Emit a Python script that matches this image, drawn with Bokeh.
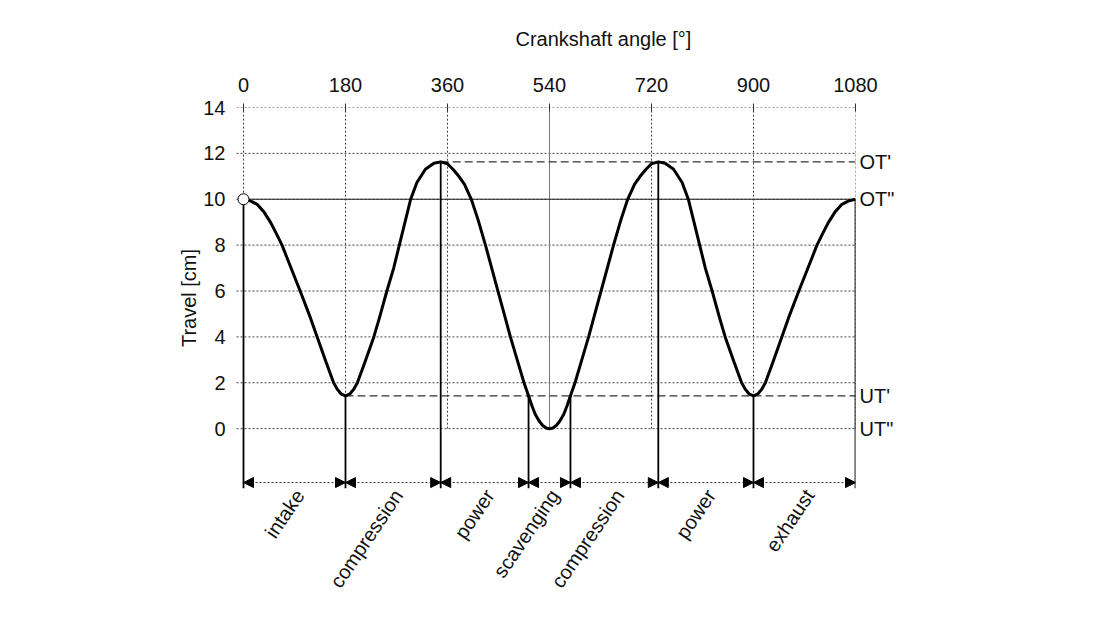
import math
from bokeh.plotting import figure
from bokeh.models import (FixedTicker, Range1d, ColumnDataSource, Arrow, NormalHead,
                          LinearAxis, Title)
from bokeh.embed import file_html
from bokeh.resources import INLINE

# ---------------- data ----------------
x_ticks = [0, 180, 360, 540, 720, 900, 1080]
y_ticks = [0, 2, 4, 6, 8, 10, 12, 14]

angle = [0, 12, 24, 36, 48, 58, 68, 86, 100, 118, 130, 145, 159, 166, 172, 180,
         188, 194, 201, 215, 230, 240, 253, 265, 275, 285, 295, 306, 321, 336, 348,
         360, 370, 380, 390, 402, 414, 427, 438, 449, 460, 471, 483, 495, 503, 509,
         515, 522, 528, 534, 540,
         546, 552, 558, 565, 571, 577, 585, 597, 609, 620, 631, 642, 653, 666, 678,
         690, 700, 710, 720, 732, 744, 759, 774, 785, 795, 805, 815, 827, 840, 850,
         865, 879, 886, 892, 900, 908, 914, 921, 935, 950, 962, 980, 994, 1012, 1022,
         1032, 1044, 1056, 1068, 1080]
travel = [10.0, 9.93, 9.78, 9.45, 8.98, 8.5, 8.0, 6.87, 6.0, 4.84, 4.0, 2.95, 2.0, 1.7, 1.52, 1.43,
          1.52, 1.7, 2.0, 2.95, 4.0, 4.84, 6.0, 7.0, 8.0, 9.0, 10.0, 10.73, 11.31, 11.57, 11.63,
          11.55, 11.3, 11.0, 10.65, 10.0, 9.1, 8.0, 7.0, 6.0, 5.0, 4.0, 3.0, 2.0, 1.43, 1.0,
          0.62, 0.32, 0.14, 0.03, 0.0,
          0.03, 0.14, 0.32, 0.62, 1.0, 1.43, 2.0, 3.0, 4.0, 5.0, 6.0, 7.0, 8.0, 9.1, 10.0,
          10.65, 11.0, 11.3, 11.55, 11.63, 11.57, 11.31, 10.73, 10.0, 9.0, 8.0, 7.0, 6.0, 4.84, 4.0,
          2.95, 2.0, 1.7, 1.52, 1.43, 1.52, 1.7, 2.0, 2.95, 4.0, 4.84, 6.0, 6.87, 8.0, 8.5,
          8.98, 9.45, 9.78, 9.93, 10.0]

bounds = [0, 180, 348, 503, 577, 732, 900, 1080]
bound_top = [10.0, 1.43, 11.63, 1.43, 1.43, 11.63, 1.43, 10.0]
phases = ["intake", "compression", "power", "scavenging", "compression", "power", "exhaust"]

level_names = ["OT'", 'OT"', "UT'", 'UT"']
level_vals = [11.63, 10.0, 1.43, 0.0]
ot1_start = 348
ut1_start = 180
center_angle = 540
start_point = (0, 10.0)

x_title = "Crankshaft angle [°]"
y_title = "Travel [cm]"

# ---------------- layout / styling ----------------
FONT = "Liberation Sans"
FS = "20px"
TXT = "#111111"
PX_PER_DEG = 612 / 1080
PX_PER_CM = 23.0
frame_top, frame_left, frame_h, frame_w = 106, 235, 382, 620
W, H = 1084, 610
x0 = -(243 - frame_left) / PX_PER_DEG
x1 = x0 + frame_w / PX_PER_DEG
xmax = x_ticks[-1]
ymax = y_ticks[-1]
ymin = ymax - frame_h / PX_PER_CM
arrow_y = -2.35
tick_len = 7 / PX_PER_DEG

p = figure(width=W, height=H, x_range=Range1d(x0, x1), y_range=Range1d(ymin, ymax),
           x_axis_location="above", output_backend="svg", toolbar_location=None,
           min_border_left=frame_left, min_border_right=W - frame_left - frame_w,
           min_border_top=frame_top, min_border_bottom=H - frame_top - frame_h)
p.outline_line_color = None
p.xgrid.visible = False
p.ygrid.visible = False


def style_axis(ax, standoff, tin=0, tout=0):
    ax.axis_line_color = None
    ax.major_tick_in = tin
    ax.major_tick_out = tout
    ax.major_tick_line_color = "#333" if (tin or tout) else None
    ax.minor_tick_line_color = None
    ax.major_label_text_font = FONT
    ax.major_label_text_font_size = FS
    ax.major_label_text_color = TXT
    ax.major_label_standoff = standoff


xa = p.xaxis[0]
xa.ticker = FixedTicker(ticks=x_ticks)
style_axis(xa, 12, 4, 4)

ya = p.yaxis[0]
ya.ticker = FixedTicker(ticks=y_ticks)
style_axis(ya, 10)
ya.axis_label = y_title
ya.axis_label_text_font = FONT
ya.axis_label_text_font_size = FS
ya.axis_label_text_font_style = "normal"
ya.axis_label_text_color = TXT
ya.axis_label_standoff = 0

# right axis: reference levels
ra = LinearAxis(ticker=FixedTicker(ticks=level_vals),
                major_label_overrides={float(v): t for v, t in zip(level_vals, level_names)})
style_axis(ra, 4)
p.add_layout(ra, "right")

# bottom axis: phase names
mids = [(a + b) / 2 + 9 for a, b in zip(bounds[:-1], bounds[1:])]
ba = LinearAxis(ticker=FixedTicker(ticks=mids),
                major_label_overrides={float(m): t for m, t in zip(mids, phases)},
                major_label_orientation=math.radians(56))
style_axis(ba, 3)
p.add_layout(ba, "below")

# top title
p.add_layout(Title(text=x_title, align="left", offset=280, standoff=50,
                   text_font=FONT, text_font_size=FS, text_font_style="normal",
                   text_color=TXT), "above")

# dotted grid (only over the 0..14 / 0..1080 area)
vx = [t for t in x_ticks if t != center_angle]
p.segment(x0=vx, y0=[0] * len(vx), x1=vx, y1=[ymax] * len(vx),
          line_color="#444", line_width=1, line_dash="2 2")
p.segment(x0=[-tick_len] * len(y_ticks), y0=y_ticks, x1=[xmax] * len(y_ticks), y1=y_ticks,
          line_color="#444", line_width=1, line_dash="2 2")
p.segment(x0=[center_angle], y0=[0], x1=[center_angle], y1=[ymax],
          line_color="#777", line_width=1)

# reference levels
p.segment(x0=[0], y0=[level_vals[1]], x1=[xmax], y1=[level_vals[1]],
          line_color="#222", line_width=1.2)
p.segment(x0=[ot1_start, ut1_start], y0=[level_vals[0], level_vals[2]],
          x1=[xmax, xmax], y1=[level_vals[0], level_vals[2]],
          line_color="#333", line_width=1.2, line_dash="8 4")

# phase boundary lines
p.segment(x0=bounds, y0=bound_top, x1=bounds, y1=[ymin] * len(bounds),
          line_color="black", line_width=1.8)

# curve
p.line(angle, travel, line_color="black", line_width=3, line_join="round")
p.scatter([start_point[0]], [start_point[1]], size=11, fill_color="white",
          line_color="black", line_width=1)

# dimension arrows
asrc = ColumnDataSource(dict(x0=bounds[:-1], x1=bounds[1:], y=[arrow_y] * len(phases)))
head = dict(size=10, fill_color="black", line_color="black")
p.add_layout(Arrow(start=NormalHead(**head), end=NormalHead(**head),
                   x_start="x0", y_start="y", x_end="x1", y_end="y", source=asrc,
                   line_color="#333", line_width=1, line_dash="2 2"))

open("out.html", "w").write(file_html(p, INLINE))
